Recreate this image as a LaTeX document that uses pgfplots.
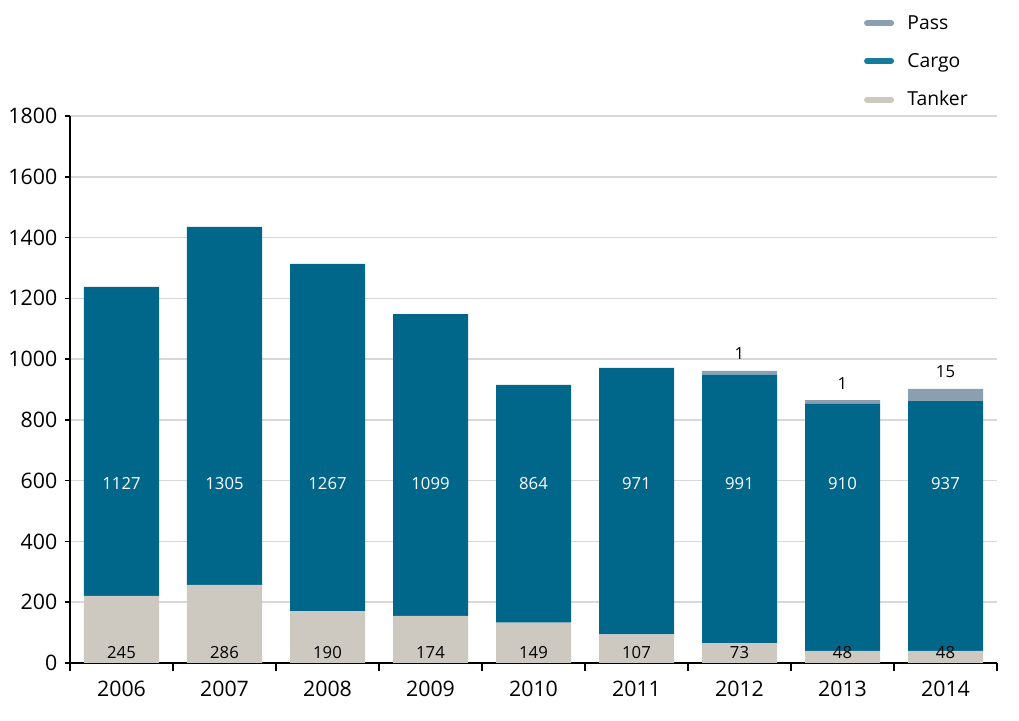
\documentclass[border=0pt]{standalone}
\usepackage{pgfplots}
\pgfplotsset{compat=1.18}
\usepackage{fontspec}
\setmainfont{Open Sans}

\definecolor{cargo}{RGB}{0,102,138}
\definecolor{cargoleg}{RGB}{20,124,156}
\definecolor{tanker}{RGB}{205,200,192}
\definecolor{pass}{RGB}{138,159,176}
\definecolor{gridgray}{RGB}{216,216,216}

% bar heights as drawn (the printed labels differ from the drawn heights)
\pgfplotstableread{
x tanker cargo pass
0 221 1017 0
1 257 1178 0
2 171 1142 0
3 155  993 0
4 133  782 0
5  94  877 0
6  65  884 12
7  40  813 12
8  40  822 40
}\shipdata

\newcommand{\barfont}{\fontsize{12.5}{13}\selectfont}

\begin{document}
\begin{tikzpicture}[x=0.75pt,y=0.75pt]
\useasboundingbox (-70,-57) rectangle (949,663);
\begin{axis}[
  at={(0,0)}, anchor=south west,
  scale only axis, width=695.25pt, height=410.25pt,
  ybar stacked, bar width=56.25pt,
  xmin=-0.5, xmax=8.5, ymin=0, ymax=1800,
  ytick={0,200,...,1800},
  xtick={0,...,8},
  xticklabels={2006,2007,2008,2009,2010,2011,2012,2013,2014},
  minor xtick={-0.5,0.5,...,8.5},
  major x tick style={draw=none},
  minor x tick style={line width=1.3pt, black},
  minor tick length=6pt,
  ytick style={line width=1.1pt, black},
  major tick length=4pt,
  tick align=outside,
  axis x line*=bottom, axis y line*=left,
  x axis line style={-, line width=2.2pt, black},
  y axis line style={-, line width=1.5pt, black},
  ymajorgrids, grid style={gridgray, line width=1.1pt},
  tick label style={font=\fontsize{16}{16}\selectfont},
  /pgf/number format/assume math mode=true,
  /pgf/number format/1000 sep={},
  yticklabel style={xshift=-2pt},
  xticklabel style={yshift=-6pt},
  reverse legend,
  legend cell align=left,
  legend style={at={(0.852,1.194)}, anchor=north west, draw=none, fill=none,
    font=\fontsize{14.5}{15}\selectfont, row sep=12.5pt,
    /tikz/every even column/.append style={column sep=6pt},
    /tikz/every odd column/.append style={column sep=8pt}},
]
\addplot[fill=tanker, draw=none,
  legend image code/.code={\draw[line width=4.5pt, line cap=round, draw=tanker] (0pt,0pt) -- (18pt,0pt);}]
  table[x=x, y=tanker] {\shipdata};
\addlegendentry{Tanker}
\addplot[fill=cargo, draw=none,
  legend image code/.code={\draw[line width=4.5pt, line cap=round, draw=cargoleg] (0pt,0pt) -- (18pt,0pt);}]
  table[x=x, y=cargo] {\shipdata};
\addlegendentry{Cargo}
\addplot[fill=pass, draw=none,
  legend image code/.code={\draw[line width=4.5pt, line cap=round, draw=pass] (0pt,0pt) -- (18pt,0pt);}]
  table[x=x, y=pass] {\shipdata};
\addlegendentry{Pass}

% anchors for the printed values, drawn after the axis
\coordinate (c0) at (axis cs:0,590);
\coordinate (c1) at (axis cs:1,590);
\coordinate (c2) at (axis cs:2,590);
\coordinate (c3) at (axis cs:3,590);
\coordinate (c4) at (axis cs:4,590);
\coordinate (c5) at (axis cs:5,590);
\coordinate (c6) at (axis cs:6,590);
\coordinate (c7) at (axis cs:7,590);
\coordinate (c8) at (axis cs:8,590);
\coordinate (t0) at (axis cs:0,34);
\coordinate (t1) at (axis cs:1,34);
\coordinate (t2) at (axis cs:2,34);
\coordinate (t3) at (axis cs:3,34);
\coordinate (t4) at (axis cs:4,34);
\coordinate (t5) at (axis cs:5,34);
\coordinate (t6) at (axis cs:6,34);
\coordinate (t7) at (axis cs:7,34);
\coordinate (t8) at (axis cs:8,34);
\coordinate (p6) at (axis cs:6,1017);
\coordinate (p7) at (axis cs:7,921);
\coordinate (p8) at (axis cs:8,958);
\end{axis}
\begin{scope}[every node/.style={font=\barfont}]
\node[text=white] at (c0) {1127};
\node[text=white] at (c1) {1305};
\node[text=white] at (c2) {1267};
\node[text=white] at (c3) {1099};
\node[text=white] at (c4) {864};
\node[text=white] at (c5) {971};
\node[text=white] at (c6) {991};
\node[text=white] at (c7) {910};
\node[text=white] at (c8) {937};
\node at (t0) {245};
\node at (t1) {286};
\node at (t2) {190};
\node at (t3) {174};
\node at (t4) {149};
\node at (t5) {107};
\node at (t6) {73};
\node at (t7) {48};
\node at (t8) {48};
\node at (p6) {1};
\node at (p7) {1};
\node at (p8) {15};
\end{scope}
\end{tikzpicture}
\end{document}
